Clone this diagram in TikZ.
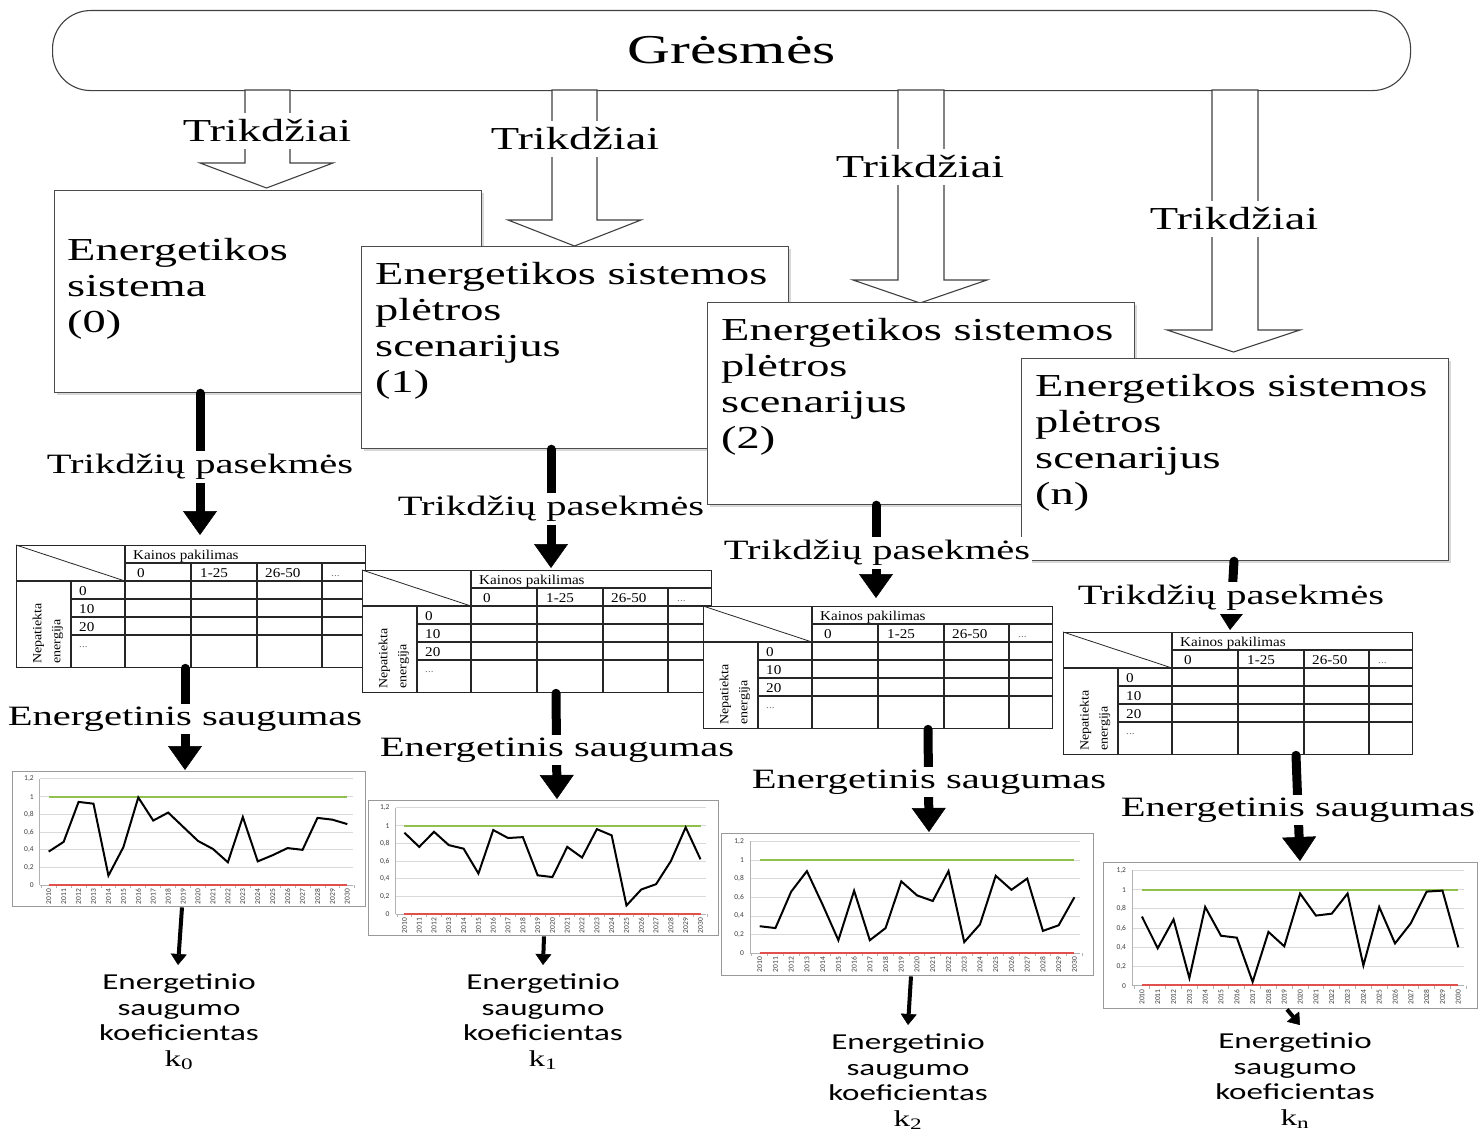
\documentclass[tikz,border=0pt]{standalone}
\usepackage{fontspec}
\usetikzlibrary{arrows.meta,shadows}
\newfontfamily\wserif{Liberation Serif}[FakeStretch=1.45]
\newfontfamily\tserif{Liberation Serif}[FakeStretch=1.12]
\newfontfamily\wsans{Carlito}[FakeStretch=1.45]
\newfontfamily\csans{Carlito}
\definecolor{xlgreen}{HTML}{92C050}
\definecolor{xlred}{HTML}{E0504D}
\tikzset{
 bar/.style={draw=black!75, line width=1.1, rounded corners=38, fill=white, inner sep=0, minimum width=1358, minimum height=80, anchor=north west, font=\wserif\fontsize{41}{48}\selectfont},
 harrow/.style={draw=black!75, line width=1.1, fill=white, line join=miter},
 trik/.style={font=\wserif\fontsize{32}{36}\selectfont, fill=white, inner xsep=2, inner ysep=7},
 sbox/.style={draw=black!70, line width=1.2, fill=white, inner sep=0, minimum width=427, minimum height=202, anchor=north west, drop shadow={shadow xshift=2pt, shadow yshift=-2pt, fill=black!25, opacity=0.6}},
 btext/.style={font=\wserif\fontsize{32}{36}\selectfont, align=left, anchor=base west, inner sep=0},
 tframe/.style={draw=black!85, line width=1.3, fill=white, inner sep=0, minimum width=349, minimum height=122, anchor=north west},
 tline/.style={draw=black!85, line width=1.1},
 ttext/.style={font=\tserif\fontsize{13.5}{15}\selectfont, inner sep=0},
 tdots/.style={font=\tserif\fontsize{10}{12}\selectfont, inner sep=0, text=black!55},
 cframe/.style={draw=black!40, line width=1.4, fill=white, inner sep=0, anchor=north west},
 gridl/.style={draw=black!15, line width=0.8},
 axl/.style={draw=black!30, line width=0.8},
 greenl/.style={draw=xlgreen, line width=2},
 redl/.style={draw=xlred, line width=2},
 datal/.style={draw=black, line width=2, line join=miter},
 ctext/.style={font=\csans\fontsize{7.5}{8}\selectfont, inner sep=0, text=black!75},
 bigarrow/.style={line width=9, line cap=round, -{Triangle[width=34pt,length=24pt,line width=0.5pt]}},
 smallarrow/.style={line width=4, -{Triangle[width=16pt,length=11pt,line width=0.5pt]}},
 atext/.style={font=\wserif\fontsize{28}{32}\selectfont, fill=white, inner xsep=1.5, inner ysep=3},
 lab/.style={font=\wsans\fontsize{22.8}{25.5}\selectfont, align=center, inner sep=0, anchor=north},
}
\newcommand\harr[6]{%
 \draw[harrow] (#1,90) -- (#1,#5) -- (#3,#5) -- ({(#3+#4)/2},#6) -- (#4,#5) -- (#2,#5) -- (#2,90) -- cycle;}
\newcommand\tabbody[1]{%
\begin{scope}[shift={(#1.north west)}]
 \draw[tline] (109,18) -- (349,18);
 \draw[tline] (0,36) -- (349,36);
 \foreach \yy in {54,72,90} \draw[tline] (55,\yy) -- (349,\yy);
 \draw[tline] (55,36) -- (55,122);
 \draw[tline] (109,0) -- (109,122);
 \foreach \xx in {175,241,306} \draw[tline] (\xx,18) -- (\xx,122);
 \draw[tline, line width=0.8] (0,0) -- (109,36);
 \node[ttext, anchor=base west] at (117,14) {Kainos pakilimas};
 \node[ttext, anchor=base west] at (121,32) {0};
 \node[ttext, anchor=base west] at (184,32) {1-25};
 \node[ttext, anchor=base west] at (249,32) {26-50};
 \node[tdots, anchor=base west] at (315,31) {...};
 \node[ttext, anchor=base west] at (63,50) {0};
 \node[ttext, anchor=base west] at (63,68) {10};
 \node[ttext, anchor=base west] at (63,86) {20};
 \node[tdots, anchor=base west] at (63,102) {...};
 \node[ttext, rotate=90, anchor=west, align=left, font=\tserif\fontsize{12.5}{19}\selectfont] at (32,119) {Nepatiekta\\energija};
\end{scope}}
\newcommand\chartin[5]{%
\begin{scope}[shift={(#1.north west)}, x=#2pt, y=-#3pt]
 \foreach \g in {0.2,0.4,0.6,0.8,1,1.2} \draw[gridl] (0.079,{0.847-\g*0.6575}) -- (0.966,{0.847-\g*0.6575});
 \draw[axl] (0.079,0.847) -- (0.079,0.058);
 \draw[axl] (0.079,0.847) -- (0.966,0.847);
 \foreach \i in {0,...,21} \draw[axl] ({0.0828+\i*0.0423},0.847) -- ++(0,0.022);
 \draw[greenl] (0.104,0.1895) -- (0.950,0.1895);
 \draw[redl] (0.104,0.845) -- (0.950,0.845);
 \foreach \g/\lab in {0/0, 0.2/{0,2}, 0.4/{0,4}, 0.6/{0,6}, 0.8/{0,8}, 1/1, 1.2/{1,2}}
   \node[ctext, anchor=east] at (0.062,{0.847-\g*0.6575}) {\lab};
 \foreach \i in {0,...,20} {\pgfmathtruncatemacro\yr{2010+\i}
   \node[ctext, rotate=90, anchor=east] at ({0.104+\i*0.0423},0.872) {\yr};}
 \draw[datal] (0.104,{0.847-#4*0.6575}) \foreach \v [count=\i] in {#5} { -- ({0.104+\i*0.0423},{0.847-\v*0.6575}) };
\end{scope}}
\begin{document}
\begin{tikzpicture}[x=1pt, y=-1pt]
\useasboundingbox (0,0) rectangle (1480,1132);
\fill[white] (0,0) rectangle (1480,1132);
% top bar
\node[bar] (g) at (52,10) {Grėsmės};
% hollow arrows
\harr{245}{290}{200}{333}{163}{188}
\harr{552}{597}{508}{641}{220}{246}
\harr{898}{944}{853}{987}{280}{303}
\harr{1212}{1258}{1167}{1300}{330}{352}
\node[trik] (tr0) at (267,131) {Trikdžiai};
\node[trik] (tr1) at (575,139) {Trikdžiai};
\node[trik] (tr2) at (920,167) {Trikdžiai};
\node[trik] (tr3) at (1234,219) {Trikdžiai};
% boxes
\node[sbox] (b0) at (54,190) {};
\node[btext] (bt0) at (67,332) {Energetikos\\sistema\\(0)};
\node[sbox] (b1) at (361,246) {};
\node[btext] (bt1) at (375,392) {Energetikos sistemos\\plėtros\\scenarijus\\(1)};
\node[sbox] (b2) at (707,302) {};
\node[btext] (bt2) at (721,448) {Energetikos sistemos\\plėtros\\scenarijus\\(2)};
\node[sbox] (b3) at (1021,358) {};
\node[btext] (bt3) at (1035,504) {Energetikos sistemos\\plėtros\\scenarijus\\(n)};
% tables
\node[tframe] (t0) at (16,545) {};
\tabbody{t0}
\node[tframe] (t1) at (362,570) {};
\tabbody{t1}
\node[tframe] (t2) at (703,606) {};
\tabbody{t2}
\node[tframe] (t3) at (1063,632) {};
\tabbody{t3}
% charts
\node[cframe, minimum width=353, minimum height=135] (c0) at (12,771) {};
\chartin{c0}{353}{135}{0.38}{0.49,0.94,0.92,0.11,0.43,0.99,0.73,0.82,0.66,0.50,0.41,0.26,0.77,0.27,0.34,0.42,0.40,0.76,0.74,0.69}
\node[cframe, minimum width=350, minimum height=135] (c1) at (368,800) {};
\chartin{c1}{350}{135}{0.92}{0.76,0.93,0.78,0.74,0.46,0.95,0.86,0.87,0.44,0.42,0.76,0.64,0.96,0.89,0.10,0.28,0.34,0.60,0.98,0.62}
\node[cframe, minimum width=372, minimum height=142] (c2) at (721,833) {};
\chartin{c2}{372}{142}{0.29}{0.27,0.66,0.88,0.52,0.14,0.67,0.14,0.27,0.77,0.62,0.56,0.88,0.12,0.31,0.83,0.68,0.80,0.24,0.30,0.60}
\node[cframe, minimum width=374, minimum height=146] (c3) at (1103,862) {};
\chartin{c3}{374}{146}{0.72}{0.39,0.69,0.08,0.82,0.52,0.50,0.04,0.56,0.41,0.96,0.73,0.75,0.96,0.21,0.82,0.44,0.65,0.98,0.99,0.40}
% labels
\node[lab] (L0) at (179,974) {Energetinio\\saugumo\\koeficientas\\{\wserif k\textsubscript{0}}};
\node[lab] (L1) at (543,974) {Energetinio\\saugumo\\koeficientas\\{\wserif k\textsubscript{1}}};
\node[lab] (L2) at (908,1034) {Energetinio\\saugumo\\koeficientas\\{\wserif k\textsubscript{2}}};
\node[lab] (L3) at (1295,1033) {Energetinio\\saugumo\\koeficientas\\{\wserif k\textsubscript{n}}};
% big arrows: box -> table
\draw[bigarrow] ([xshift=146pt]b0.south west) -- ([xshift=184pt,yshift=10pt]t0.north west);
\draw[bigarrow] ([xshift=190pt]b1.south west) -- ([xshift=189pt,yshift=2pt]t1.north west);
\draw[bigarrow] ([xshift=169pt]b2.south west) -- ([xshift=173pt,yshift=8pt]t2.north west);
\draw[bigarrow] ([xshift=213pt]b3.south west) -- ([xshift=167pt,yshift=2pt]t3.north west);
% big arrows: table -> chart
\draw[bigarrow] ([xshift=169pt]t0.south west) -- ([xshift=173pt,yshift=1pt]c0.north west);
\draw[bigarrow] ([xshift=194pt]t1.south west) -- ([xshift=189pt,yshift=1pt]c1.north west);
\draw[bigarrow] ([xshift=225pt]t2.south west) -- ([xshift=208pt,yshift=1pt]c2.north west);
\draw[bigarrow] ([xshift=233pt]t3.south west) -- ([xshift=197pt,yshift=1pt]c3.north west);
% small arrows: chart -> label
\draw[smallarrow] ([xshift=170pt]c0.south west) -- ([xshift=-1pt,yshift=9pt]L0.north);
\draw[smallarrow] ([xshift=176pt]c1.south west) -- ([yshift=9pt]L1.north);
\draw[smallarrow] ([xshift=190pt]c2.south west) -- ([yshift=9pt]L2.north);
\draw[smallarrow] ([xshift=184pt]c3.south west) -- ([xshift=5pt,yshift=8pt]L3.north);
% arrow texts
\node[atext] (p0) at (200,467) {Trikdžių pasekmės};
\node[atext] (p1) at (551,509) {Trikdžių pasekmės};
\node[atext] (p2) at (877,553) {Trikdžių pasekmės};
\node[atext] (p3) at (1231,598) {Trikdžių pasekmės};
\node[atext] (e0) at (185,719) {Energetinis saugumas};
\node[atext] (e1) at (557,750) {Energetinis saugumas};
\node[atext] (e2) at (929,782) {Energetinis saugumas};
\node[atext] (e3) at (1298,810) {Energetinis saugumas};
\end{tikzpicture}
\end{document}
